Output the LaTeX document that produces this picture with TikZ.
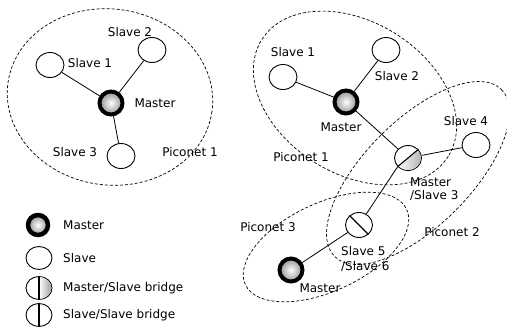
\documentclass[tikz,border=0pt]{standalone}
\usepackage{fontspec}
\setmainfont{DejaVu Sans}
\usetikzlibrary{shapes.geometric,calc}
\begin{document}
\begin{tikzpicture}[x=1pt,y=-1pt,
  lbl/.style={inner sep=0pt, font=\fontsize{12}{14}\selectfont},
  slave/.style={ellipse, draw, line width=0.9pt, fill=white, minimum width=28pt, minimum height=25pt, inner sep=0pt},
  master/.style={circle, draw, line width=4pt, inner color=white, outer color=gray!85, minimum size=23pt, inner sep=0pt},
  bridge/.style={ellipse, draw, line width=0.9pt, fill=white, minimum width=27pt, minimum height=25pt, inner sep=0pt},
  halfshade/.style={left color=white, right color=gray!85},
  divider/.style={line width=1.1pt},
  piconet/.style={draw, dash pattern=on 3pt off 2pt, line width=0.7pt},
  link/.style={line width=0.8pt}]
\useasboundingbox (0,0) rectangle (507,335);

% ---- left piconet ----
\draw[piconet, rotate around={-8:(110,97)}] (110,97) ellipse [x radius=103, y radius=88];
\node[master] (lm) at (111,103) {};
\node[slave] (ls1) at (50,65) {};
\node[slave] (ls2) at (152,50) {};
\node[slave] (ls3) at (121,156) {};
\draw[link] (ls1) -- (lm);
\draw[link] (ls2) -- (lm);
\draw[link] (lm) -- (ls3);
\node[lbl] at (130,32) {Slave 2};
\node[lbl] at (90,63) {Slave 1};
\node[lbl] at (155,103) {Master};
\node[lbl] at (75,152) {Slave 3};
\node[lbl] at (190,152) {Piconet 1};

% ---- scatternet ----
\draw[piconet, rotate around={-32:(355,98)}] (355,98) ellipse [x radius=110, y radius=76];
\draw[piconet, rotate around={45:(418,173)}] (418,173) ellipse [x radius=118, y radius=53];
\draw[piconet, rotate around={25:(326,247)}] (326,247) ellipse [x radius=89, y radius=44];

\node[master] (rm) at (346,102) {};
\node[slave] (rs1) at (283,77) {};
\node[slave] (rs2) at (386,50) {};
\node[bridge] (ms3) at (408,158) {};
\node[slave] (rs4) at (476,145) {};
\node[bridge] (ss56) at (359,225) {};
\node[master] (rm3) at (291,270) {};

% Master/Slave 3 bridge: lower-right half shaded, diagonal divider
\begin{scope}
  \clip (ms3.center) ellipse [x radius=13, y radius=12];
  \shade[halfshade] (ms3.40) -- ($(ms3.40)+(13,15)$) -- ($(ms3.220)+(13,15)$) -- (ms3.220) -- cycle;
\end{scope}
\draw[divider] (ms3.40) -- (ms3.220);
% Slave 5 / Slave 6 bridge: diagonal divider
\draw[divider] (ss56.135) -- (ss56.315);

\draw[link] (rs1) -- (rm);
\draw[link] (rs2) -- (rm);
\draw[link] (rm) -- (ms3);
\draw[link] (ms3) -- (rs4);
\draw[link] (ss56) -- (ms3.220);
\draw[link] (rm3) -- (ss56);

\node[lbl] at (293,52) {Slave 1};
\node[lbl] at (397,76) {Slave 2};
\node[lbl] at (341,127) {Master};
\node[lbl] at (466,121) {Slave 4};
\node[lbl] at (301,157) {Piconet 1};
\node[lbl, anchor=west] at (410,182) {Master};
\node[lbl, anchor=west] at (410,195) {/Slave 3};
\node[lbl] at (268,227) {Piconet 3};
\node[lbl] at (452,232) {Piconet 2};
\node[lbl, anchor=west] at (341,251) {Slave 5};
\node[lbl, anchor=west] at (341,266) {/Slave 6};
\node[lbl] at (320,288) {Master};

% ---- legend ----
\node[master, minimum size=20pt, line width=4.5pt] (km) at (38,225) {};
\node[slave, minimum width=26pt, minimum height=23pt] (ks) at (39,258) {};
\node[bridge, minimum width=26pt, minimum height=23pt] (kmsb) at (39,288) {};
\node[bridge, minimum width=26pt, minimum height=23pt] (kssb) at (39,315) {};
\begin{scope}
  \clip (kmsb.center) ellipse [x radius=12.5, y radius=11];
  \shade[halfshade] (kmsb.north) rectangle ($(kmsb.south)+(14,0)$);
\end{scope}
\draw[divider, line width=1.4pt] (kmsb.north) -- (kmsb.south);
\draw[divider] (kssb.north) -- (kssb.south);
\node[lbl, anchor=west] at (63,225) {Master};
\node[lbl, anchor=west] at (63,258) {Slave};
\node[lbl, anchor=west] at (63,288) {Master/Slave bridge};
\node[lbl, anchor=west] at (63,315) {Slave/Slave bridge};
\end{tikzpicture}
\end{document}
